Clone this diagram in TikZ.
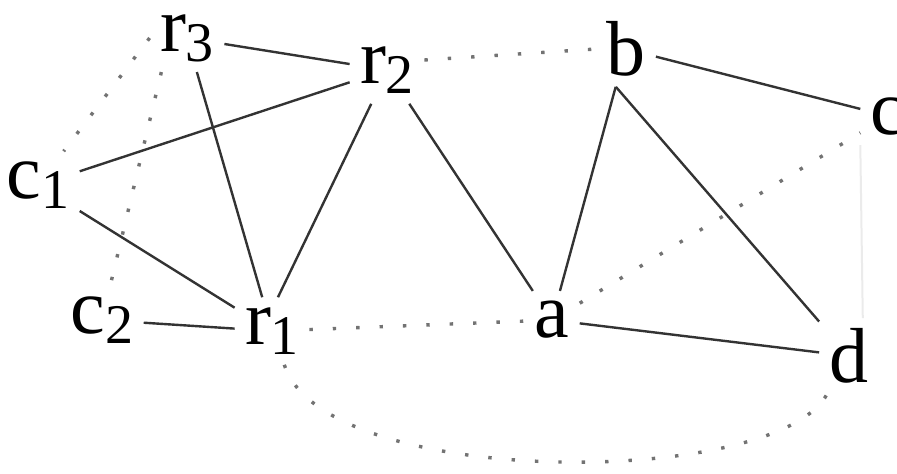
\documentclass[tikz,border=0pt]{standalone}
\usepackage{fontspec}
\setmainfont{Liberation Serif}
\newcommand{\lowsub}[1]{\raisebox{-5pt}{\fontsize{28}{30}\selectfont #1}}

\begin{document}
\begin{tikzpicture}[
  x=0.5pt, y=-0.5pt,
  font=\fontsize{39}{44}\selectfont,
  vertex/.style={inner sep=5pt},
  edge/.style={draw=black!80, line width=1.2pt},
  weak/.style={draw=black!55, line width=1.7pt, dash pattern=on 1.7pt off 10pt},
  faint/.style={draw=black!8, line width=1pt},
]
  \useasboundingbox (0,0) rectangle (897,473);

  \node[vertex] (r3) at (187,38) {r\lowsub{3}};
  \node[vertex] (r2) at (387,70) {r\lowsub{2}};
  \node[vertex] (b) at (626,49) {b};
  \node[vertex] (c) at (888,116) {c};
  \node[vertex] (c1) at (38,185) {c\lowsub{1}};
  \node[vertex] (c2) at (102,320) {c\lowsub{2}};
  \node[vertex] (r1) at (272,331) {r\lowsub{1}};
  \node[vertex] (a) at (552,320) {a};
  \node[vertex] (d) at (849,356) {d};

  \draw[edge] (r3) -- (r2);
  \draw[edge] (r3) -- (r1);
  \draw[edge] (c1) -- (r2);
  \draw[edge] (c1) -- (r1);
  \draw[edge] (r2.-115) -- (r1.80);
  \draw[edge] (r2) -- (a);
  \draw[edge] (c2) -- (r1);
  \draw[edge] (b) -- (a);
  \draw[edge] (b) -- (c);
  \draw[edge] (b.-105) -- (d);
  \draw[edge] (a) -- (d);

  \draw[weak] (r2.15) -- (b.west);
  \draw[weak] (r3.west) -- (c1);
  \draw[weak] (r3.-127) -- (c2);
  \draw[weak] (r1) -- (a);
  \draw[weak] (a) -- (c);
  \draw[weak] (r1.-70) .. controls +(40,125) and +(-50,95) .. (d.-120);
  \draw[faint] (c.south west) -- (d.70);
\end{tikzpicture}
\end{document}
